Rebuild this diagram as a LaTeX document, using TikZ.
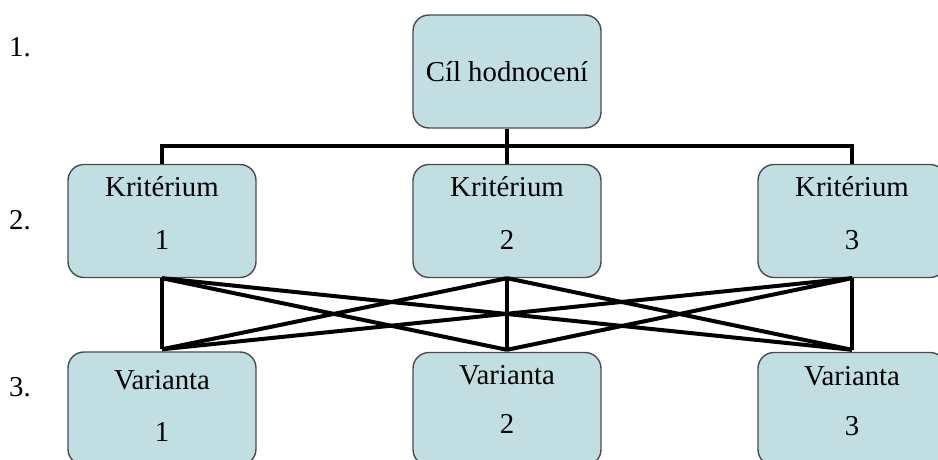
\documentclass[tikz,border=0pt]{standalone}
\usepackage{fontspec}
\setmainfont{Liberation Serif}
\usetikzlibrary{positioning}
\usetikzlibrary{calc}
\definecolor{boxfill}{RGB}{193,223,227}
\definecolor{boxline}{RGB}{75,75,75}

\begin{document}
\begin{tikzpicture}[x=0.5pt, y=-0.5pt,
		box/.style={draw=boxline, line width=0.7pt, fill=boxfill, rounded corners=8pt, minimum width=94pt, minimum height=56.5pt, inner sep=0pt},
		txt/.style={inner sep=0pt, align=center, font=\fontsize{14.4}{17}\selectfont},
		link/.style={line width=2pt}]
		\useasboundingbox (0,0) rectangle (938,460);
		% levels
		\node[txt] (l1) at (20,47) {1.};
		\node[txt] (l2) at (20,220) {2.};
		\node[txt] (l3) at (20,387) {3.};
		% goal
		\node[box] (cil) at (507,71.5) {};
		\node[txt] (ciltext) at (cil) {Cíl hodnocení};
		% criteria
		\node[box] (k1) at (162,221) {};
		\node[box] (k2) at (507,221) {};
		\node[box] (k3) at (852,221) {};
		\node[txt, below=6.2pt of k1.north] (k1text) {Kritérium\\[9.5pt]1};
		\node[txt, below=6.2pt of k2.north] (k2text) {Kritérium\\[9.5pt]2};
		\node[txt, below=6.2pt of k3.north] (k3text) {Kritérium\\[9.5pt]3};
		% variants
		\node[box] (v1) at (162,408.5) {};
		\node[box] (v2) at (507,409) {};
		\node[box] (v3) at (852,409) {};
		\node[txt, below=9.2pt of v1.north] (v1text) {Varianta\\[9pt]1};
		\node[txt, below=6.6pt of v2.north] (v2text) {Varianta\\[7.5pt]2};
		\node[txt, below=7.2pt of v3.north] (v3text) {Varianta\\[8pt]3};
		% connectors
		\coordinate (bus) at ($(cil.south)!.5!(k2.north)$);
		\draw[link] (cil.south) -- (k2.north);
		\draw[link] (k1.north) |- (bus) -| (k3.north);
		\foreach \i in {1,2,3}
			\foreach \j in {1,2,3}
				\draw[link] (k\i.south) -- ([yshift=1pt]v\j.north);
	\end{tikzpicture}
\end{document}
